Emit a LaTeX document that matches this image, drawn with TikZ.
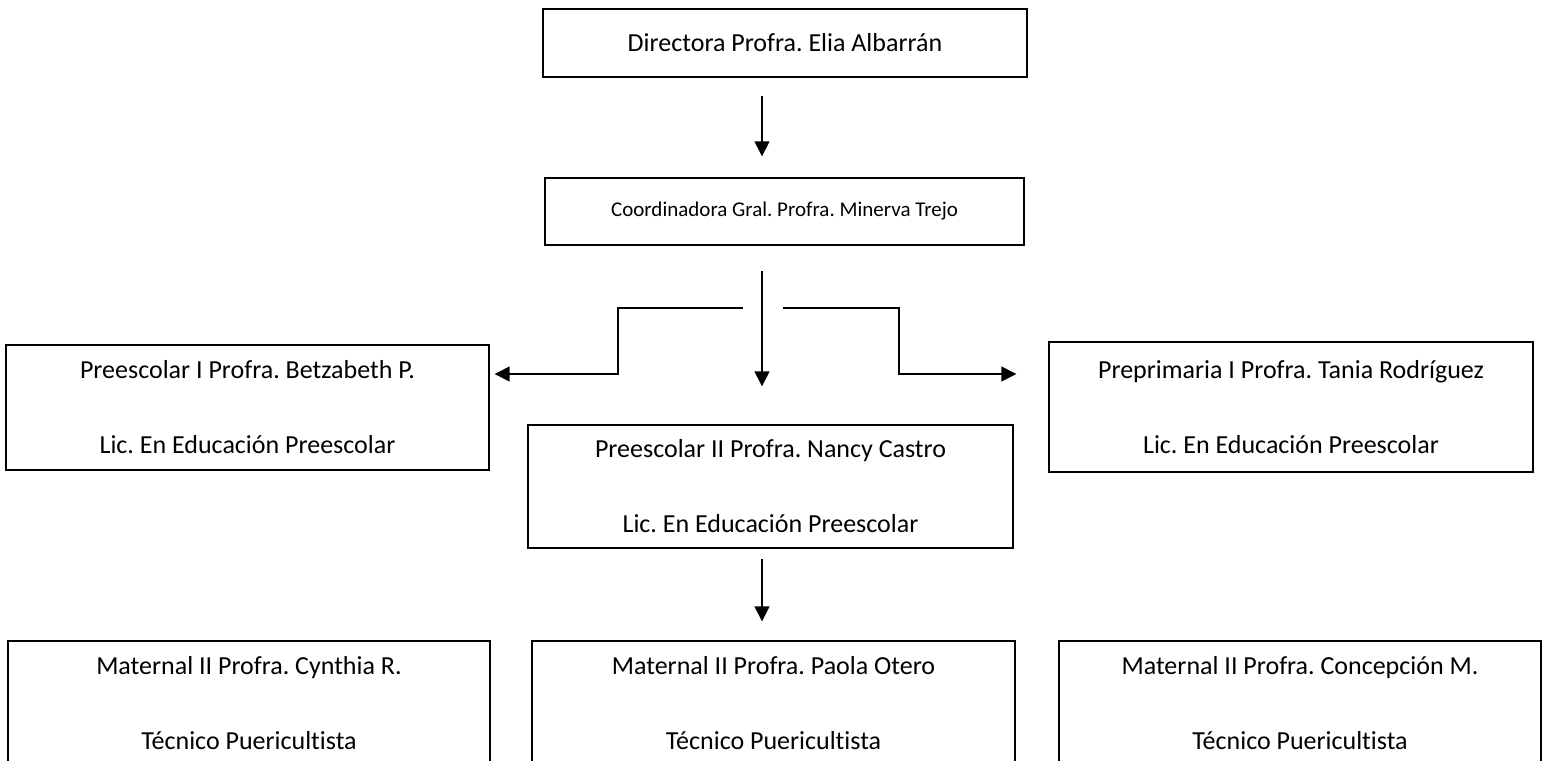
\documentclass[tikz,border=0pt]{standalone}
\usepackage{fontspec}
\setmainfont{Carlito}[Ligatures=NoCommon]
\usetikzlibrary{arrows.meta}
\frenchspacing

\begin{document}
\begin{tikzpicture}[x=1pt,y=-1pt]
    \useasboundingbox (0,0) rectangle (1546,760);

    \begin{scope}[every node/.style={draw,rectangle,line width=1.4pt,inner sep=0pt,align=center,font=\fontsize{26}{75}\selectfont}]
        \node[minimum width=484pt,minimum height=68pt] (dir) at (785,43) {Directora Profra. Elia Albarrán};
        \node[minimum width=479pt,minimum height=67pt,font=\fontsize{21}{25}\selectfont] (coord) at (784.5,211.5) {Coordinadora Gral. Profra. Minerva Trejo};
        \node[minimum width=483pt,minimum height=125pt] (pre1) at (247.5,407.5) {Preescolar I Profra. Betzabeth P.\\Lic. En Educación Preescolar};
        \node[minimum width=485pt,minimum height=123pt] (pre2) at (770.5,486.5) {Preescolar II Profra. Nancy Castro\\Lic. En Educación Preescolar};
        \node[minimum width=484pt,minimum height=130pt] (preprim) at (1291,407) {Preprimaria I Profra. Tania Rodríguez\\Lic. En Educación Preescolar};
        % Maternal rooms, cut at the bottom of the page %
        \node[minimum width=482pt,minimum height=124pt] (mat1) at (249,703) {Maternal II Profra. Cynthia R.\\Técnico Puericultista};
        \node[minimum width=483pt,minimum height=124pt] (mat2) at (773.5,703) {Maternal II Profra. Paola Otero\\Técnico Puericultista};
        \node[minimum width=482pt,minimum height=124pt] (mat3) at (1300,703) {Maternal II Profra. Concepción M.\\Técnico Puericultista};
    \end{scope}

    \coordinate (spine) at (762,0);
    \coordinate (lgap) at (743,308);
    \coordinate (lknee) at (618,374);
    \coordinate (rgap) at (783,308);
    \coordinate (rknee) at (899,374);

    \begin{scope}[every edge/.style={draw,line width=1.5pt,-{Triangle[length=15pt,width=15pt]}}]
        \path (dir.south -| spine) edge[shorten <=18pt,shorten >=21pt] (coord.north -| spine);
        \path (coord.south -| spine) edge[shorten <=25pt,shorten >=38pt] (pre2.north -| spine);
        \path (pre2.south -| spine) edge[shorten <=10pt,shorten >=19pt] (mat2.north -| spine);
    \end{scope}

    % Side branches %
    \draw[line width=1.5pt,-{Triangle[length=15pt,width=15pt]},shorten >=5pt] (lgap) -| (lknee) -- (pre1.east |- lknee);
    \draw[line width=1.5pt,-{Triangle[length=15pt,width=15pt]},shorten >=32pt] (rgap) -| (rknee) -- (preprim.west |- rknee);

\end{tikzpicture}
\end{document}
